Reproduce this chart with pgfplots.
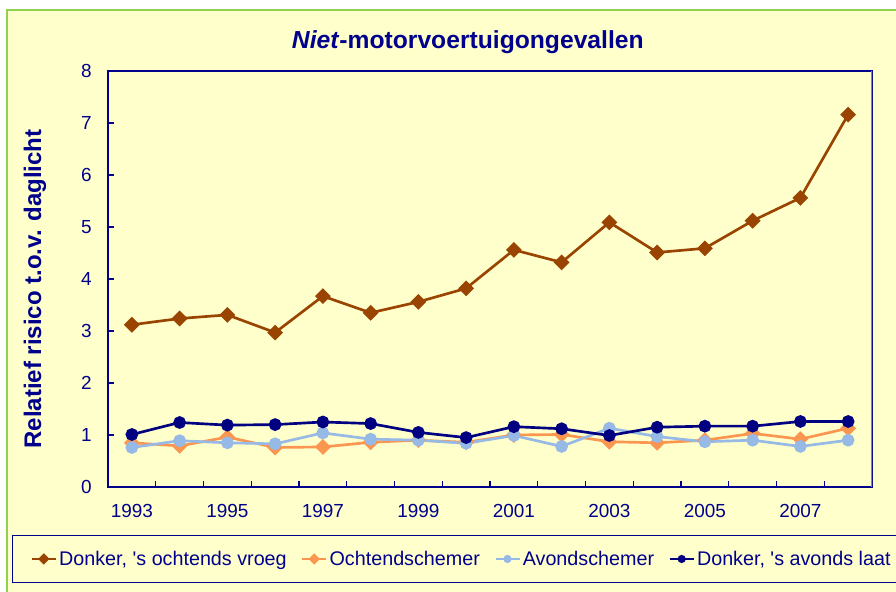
\documentclass[border=0pt]{standalone}
\usepackage{pgfplots}
\pgfplotsset{compat=1.18}
\usepackage{fontspec}
\setmainfont{Liberation Sans}[Ligatures=TeXOff]
\definecolor{bgy}{RGB}{255,255,204}
\definecolor{navyc}{RGB}{0,0,140}
\definecolor{brownc}{RGB}{153,68,0}
\definecolor{orangec}{RGB}{250,150,80}
\definecolor{lblue}{RGB}{150,185,230}
\definecolor{dblue}{RGB}{0,0,128}
\definecolor{greenb}{RGB}{146,208,80}
\definecolor{rightc}{RGB}{130,130,190}
\begin{document}
\begin{tikzpicture}[x=0.75pt,y=0.75pt]
\fill[bgy] (7,0) rectangle (896,582);
\draw[greenb,line width=1.5pt] (7,0) -- (7,582) -- (900,582);
\begin{axis}[
  at={(81pt,78.75pt)}, anchor=south west,
  scale only axis, width=573pt, height=312pt,
  xmin=1992.5, xmax=2008.5, ymin=0, ymax=8,
  xtick={1993,1995,...,2007},
  xticklabels={1993,1995,1997,1999,2001,2003,2005,2007},
  major x tick style={draw=none},
  minor xtick={1993.5,1994.5,...,2007.5},
  ytick={0,1,...,8},
  tick align=inside, tick pos=left,
  major tick length=4.5pt, minor tick length=4.5pt,
  tick style={navyc, line width=1pt},
  axis line style={navyc, line width=1.5pt},
  ticklabel style={font=\fontsize{14.2}{16}\selectfont, text=navyc},
  /pgf/number format/assume math mode=true,
  yticklabel style={inner sep=0pt, xshift=-12pt},
  xticklabel style={inner sep=0pt, yshift=-12.5pt},
  title={\textit{Niet}-motorvoertuigongevallen},
  title style={at={(0.471,1.0697)}, anchor=center, yshift=-6.5pt, font=\bfseries\fontsize{18.5}{22}\selectfont, text=navyc},
  ylabel={Relatief risico t.o.v. daglicht},
  ylabel style={at={(-0.0955,0.476)}, anchor=center, font=\bfseries\fontsize{18}{21}\selectfont, text=navyc},
  legend columns=4,
  legend image code/.code={\draw[mark repeat=2,mark phase=2,#1,mark size=2pt] plot coordinates {(0pt,0pt) (9pt,0pt) (18pt,0pt)};},
  legend style={at={(-0.12565,-0.11538)}, anchor=north west, draw=navyc, line width=0.75pt, fill=bgy,
    font=\fontsize{14.8}{17}\selectfont, text=navyc, inner xsep=13.5pt, inner ysep=10pt,
    nodes={inner sep=1.5pt}, /tikz/every even column/.append style={column sep=9.2pt}},
]
\addplot[brownc, line width=2pt, mark=square*, mark size=3.2pt, mark options={rotate=45, solid}] coordinates {
(1993,3.12) (1994,3.24) (1995,3.31) (1996,2.97) (1997,3.67) (1998,3.35) (1999,3.56) (2000,3.82)
(2001,4.56) (2002,4.32) (2003,5.09) (2004,4.51) (2005,4.59) (2006,5.12) (2007,5.56) (2008,7.16)};
\addlegendentry{Donker, 's ochtends vroeg}
\addplot[orangec, line width=2pt, mark=square*, mark size=3.2pt, mark options={rotate=45, solid}] coordinates {
(1993,0.85) (1994,0.79) (1995,0.96) (1996,0.76) (1997,0.77) (1998,0.86) (1999,0.90) (2000,0.86)
(2001,1.00) (2002,1.01) (2003,0.87) (2004,0.85) (2005,0.90) (2006,1.03) (2007,0.92) (2008,1.13)};
\addlegendentry{Ochtendschemer}
\addplot[lblue, line width=2pt, mark=*, mark size=3.75pt, mark options={solid}] coordinates {
(1993,0.76) (1994,0.89) (1995,0.85) (1996,0.83) (1997,1.04) (1998,0.92) (1999,0.90) (2000,0.84)
(2001,0.99) (2002,0.78) (2003,1.13) (2004,0.97) (2005,0.87) (2006,0.90) (2007,0.78) (2008,0.90)};
\addlegendentry{Avondschemer}
\addplot[dblue, line width=2pt, mark=*, mark size=3.75pt, mark options={solid}] coordinates {
(1993,1.01) (1994,1.24) (1995,1.19) (1996,1.20) (1997,1.25) (1998,1.22) (1999,1.05) (2000,0.95)
(2001,1.16) (2002,1.12) (2003,0.99) (2004,1.15) (2005,1.17) (2006,1.17) (2007,1.26) (2008,1.26)};
\addlegendentry{Donker, 's avonds laat}
\draw[rightc, line width=1.5pt] (rel axis cs:1,0) -- (rel axis cs:1,1);
\end{axis}
\pgfresetboundingbox
\useasboundingbox (0,0) rectangle (896,592);
\end{tikzpicture}
\end{document}
